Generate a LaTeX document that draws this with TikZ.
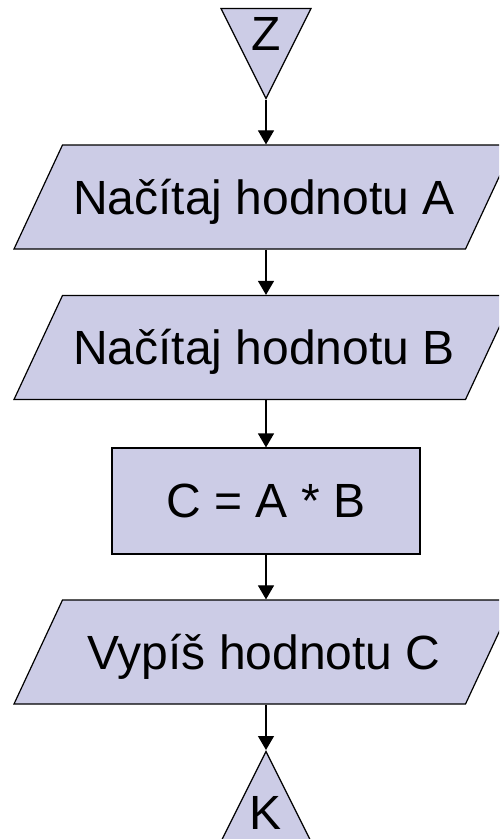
\documentclass[tikz,border=0pt]{standalone}
\usepackage{fontspec}
\setmainfont{Liberation Sans}
\usetikzlibrary{shapes.geometric,arrows.meta}
\definecolor{blokfill}{RGB}{204,204,230}
\tikzset{
  blok/.style={draw=black, line width=1.2pt, fill=blokfill, inner sep=0pt,
    font=\fontsize{48}{52}\selectfont},
  vstup/.style={blok, trapezium, trapezium left angle=65, trapezium right angle=115,
    trapezium stretches body=true, text height=40pt, text depth=6pt,
    inner xsep=0pt, inner ysep=29pt, minimum width=500pt},
  prikaz/.style={blok, rectangle, minimum width=308pt, minimum height=106pt},
  koniec/.style={blok, isosceles triangle, isosceles triangle stretches,
    minimum width=90pt, minimum height=90pt},
  sipka/.style={line width=1.2pt, -{Triangle[length=14pt,width=16pt]}}
}
\begin{document}
\begin{tikzpicture}[x=1pt,y=-1pt]
\clip (0,0) rectangle (499,839);

\node[koniec, shape border rotate=270, anchor=apex] (z) at (266,100) {Z};
\node[vstup] (p1) at (264,197) {Načítaj hodnotu A};
\node[vstup] (p2) at (264,347.5) {Načítaj hodnotu B};
\node[prikaz] (c) at (266,501) {C = A * B};
\node[vstup] (p3) at (264,652) {Vypíš hodnotu C};
\node[koniec, shape border rotate=90, anchor=apex] (k) at (266,750) {\raisebox{6pt}{K}};

\draw[sipka] (z.apex) -- (z.apex |- p1.north);
\draw[sipka] (p1.south -| c) -- (c |- p2.north);
\draw[sipka] (p2.south -| c) -- (c.north);
\draw[sipka] (c.south) -- (c |- p3.north);
\draw[sipka] (p3.south -| k.apex) -- (k.apex);
\end{tikzpicture}
\end{document}
